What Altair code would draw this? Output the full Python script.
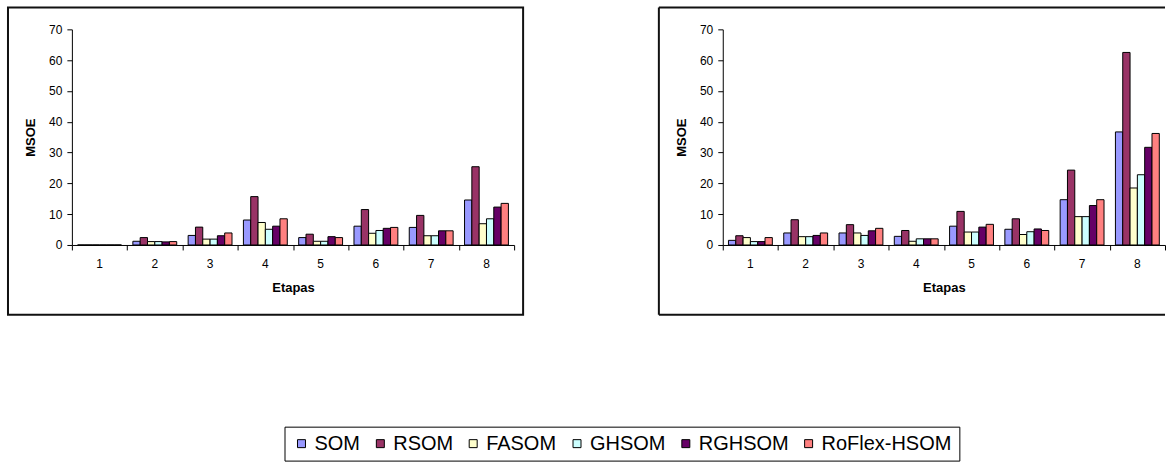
import altair as alt
import pandas as pd

stages = ["1", "2", "3", "4", "5", "6", "7", "8"]
series = ["SOM", "RSOM", "FASOM", "GHSOM", "RGHSOM", "RoFlex-HSOM"]
colors = ["#9999FF", "#993366", "#FFFFCC", "#CCFFFF", "#660066", "#FF8080"]
y_ticks = [0, 10, 20, 30, 40, 50, 60, 70]
boundaries = [0, 1, 2, 3, 4, 5, 6, 7, 8]

# Left panel values
left_som = [0, 1.2, 3.1, 8.1, 2.4, 6.1, 5.7, 14.6]
left_rsom = [0, 2.4, 5.8, 15.7, 3.5, 11.5, 9.6, 25.4]
left_fasom = [0, 1.1, 1.9, 7.3, 1.2, 3.8, 3.0, 6.9]
left_ghsom = [0, 1.1, 1.9, 5.1, 1.2, 4.7, 3.0, 8.5]
left_rghsom = [0, 1.0, 3.0, 6.1, 2.7, 5.4, 4.6, 12.3]
left_roflex = [0, 1.1, 3.9, 8.5, 2.4, 5.7, 4.6, 13.5]

# Right panel values
right_som = [1.5, 3.9, 3.9, 2.8, 6.1, 5.1, 14.7, 36.7]
right_rsom = [3.0, 8.2, 6.6, 4.7, 10.9, 8.5, 24.3, 62.5]
right_fasom = [2.4, 2.7, 3.9, 1.2, 4.2, 3.4, 9.2, 18.5]
right_ghsom = [1.1, 2.7, 3.1, 2.0, 4.2, 4.3, 9.2, 22.8]
right_rghsom = [1.1, 3.1, 4.6, 2.0, 5.8, 5.2, 12.8, 31.7]
right_roflex = [2.4, 3.9, 5.4, 2.0, 6.7, 4.7, 14.7, 36.2]

FONT = "Liberation Sans"
W, H = 443, 216


def long_df(cols):
    rows = []
    for name, vals in zip(series, cols):
        for st, v in zip(stages, vals):
            rows.append({"stage": st, "series": name, "value": v})
    return pd.DataFrame(rows)


legend = alt.Legend(
    title=None, orient="none", legendX=213, legendY=398, direction="horizontal",
    columns=6, symbolType="square", symbolSize=64, symbolStrokeColor="black",
    symbolStrokeWidth=1, labelFontSize=20, labelFont=FONT, labelColor="black",
    labelOffset=3, columnPadding=10, padding=7, strokeColor="black",
    fillColor="white", labelLimit=400,
)


def panel(cols, right=False):
    df = long_df(cols)
    bars = alt.Chart(df).mark_bar(stroke="black", strokeWidth=1).encode(
        x=alt.X("stage:N", sort=stages,
                scale=alt.Scale(paddingInner=0, paddingOuter=0),
                axis=alt.Axis(title="Etapas", orient="bottom", labelAngle=0, ticks=False,
                              tickSize=0, labelPadding=14, titlePadding=12,
                              domainColor="black", domainWidth=1)),
        xOffset=alt.XOffset("series:N", sort=series,
                            scale=alt.Scale(paddingInner=0, paddingOuter=0.78)),
        y=alt.Y("value:Q", scale=alt.Scale(domain=[0, 70], nice=False),
                axis=alt.Axis(title="MSOE", values=y_ticks, grid=False, tickSize=5,
                              labelPadding=5, titlePadding=11, domainColor="black",
                              tickColor="black")),
        color=alt.Color("series:N", sort=series,
                        scale=alt.Scale(domain=series, range=colors), legend=legend),
    )
    tick_df = pd.DataFrame({"b": boundaries})
    ticks = alt.Chart(tick_df).mark_point(opacity=0).encode(
        x=alt.X("b:Q", scale=alt.Scale(domain=[0, 8], nice=False, zero=False),
                axis=alt.Axis(values=boundaries, labels=False, title=None, orient="bottom",
                              domain=False, ticks=True, tickSize=5, tickColor="black",
                              grid=False)),
        y=alt.value(H),
    )
    one = pd.DataFrame({"k": [0]})
    if not right:
        frame = alt.Chart(one).mark_rect(filled=False, stroke="#111111", strokeWidth=2).encode(
            x=alt.value(-64), x2=alt.value(452), y=alt.value(-22), y2=alt.value(286))
        layers = [frame, bars, ticks]
    else:
        top = alt.Chart(one).mark_rule(color="#111111", strokeWidth=2).encode(
            x=alt.value(-64), x2=alt.value(443), y=alt.value(-22), y2=alt.value(-22))
        left = alt.Chart(one).mark_rule(color="#111111", strokeWidth=2).encode(
            x=alt.value(-64), x2=alt.value(-64), y=alt.value(-22), y2=alt.value(286))
        bottom = alt.Chart(one).mark_rule(color="#111111", strokeWidth=2).encode(
            x=alt.value(-64), x2=alt.value(443), y=alt.value(286), y2=alt.value(286))
        layers = [top, left, bottom, bars, ticks]
    return alt.layer(*layers).resolve_scale(x="independent").properties(width=W, height=H)


left_chart = panel([left_som, left_rsom, left_fasom, left_ghsom, left_rghsom, left_roflex])
right_chart = panel([right_som, right_rsom, right_fasom, right_ghsom, right_rghsom, right_roflex],
                    right=True)

chart = alt.hconcat(left_chart, right_chart, spacing=134).properties(
    padding={"left": 7, "top": 6, "right": 0, "bottom": 0},
    background="white",
).configure_view(stroke=None).configure_axis(
    labelFont=FONT, labelFontSize=12, labelColor="black",
    titleFont=FONT, titleFontSize=13, titleFontWeight="bold", titleColor="black",
)

chart.save("out.html", embed_options={"renderer": "svg", "actions": False})
